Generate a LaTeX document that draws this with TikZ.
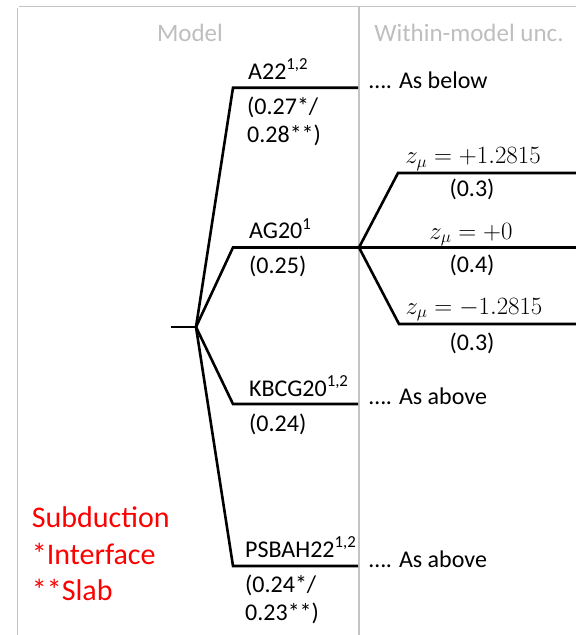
\documentclass[tikz,border=0pt]{standalone}
\usepackage[no-math]{fontspec}
\setmainfont{Carlito}
\definecolor{rulegray}{RGB}{196,196,196}
\definecolor{headgray}{RGB}{190,190,190}
\definecolor{notered}{RGB}{255,0,0}
\begin{document}
\begin{tikzpicture}[x=1pt,y=-1pt,
  frameline/.style={draw=rulegray,line width=1.5pt},
  branch/.style={draw=black,line width=2.6pt},
  head/.style={inner sep=0pt,anchor=base,text=headgray,font=\fontsize{25}{30}\selectfont},
  lbl/.style={inner sep=0pt,anchor=base west,font=\fontsize{24}{29}\selectfont},
  prob/.style={inner sep=0pt,anchor=base,font=\fontsize{24}{29}\selectfont},
  zval/.style={inner sep=0pt,anchor=base,font=\fontsize{23}{27}\selectfont},
  note/.style={inner sep=0pt,anchor=base west,text=notered,font=\fontsize{30}{36}\selectfont}]
\useasboundingbox (0,0) rectangle (576,635);

% table rules
\draw[frameline] (17.7,8) -- (17.7,635);
\draw[frameline] (19,6.5) -- (576,6.5);
\draw[frameline] (359,6.5) -- (359,635);

% column headers
\node[head] (hmodel) at (190,41.7) {Model};
\node[head] (hwithin) at (469,41.7) {Within-model unc.};

% model branch points
\coordinate (stub) at (171,327);
\coordinate (root) at (196,327);
\coordinate (a22c) at (233,87.7);
\coordinate (a22e) at (358,87.7);
\coordinate (ag20c) at (233,247.5);
\coordinate (split) at (359,247.5);
\coordinate (kbcgc) at (233,404);
\coordinate (kbcge) at (358,404);
\coordinate (psbc) at (233,566);
\coordinate (psbe) at (358,566);

% within-model branch points
\coordinate (upc) at (398,173);
\coordinate (upe) at (576,173);
\coordinate (mide) at (576,247.5);
\coordinate (loc) at (399,324);
\coordinate (loe) at (576,324);

% logic tree
\draw[branch] (stub) -- (root);
\draw[branch] (root) -- (a22c) -- (a22e);
\draw[branch] (root) -- (ag20c) -- (split) -- (mide);
\draw[branch] (root) -- (kbcgc) -- (kbcge);
\draw[branch] (root) -- (psbc) -- (psbe);
\draw[branch] (split) -- (upc) -- (upe);
\draw[branch] (split) -- (loc) -- (loe);

% model labels and weights
\node[lbl] (a22) at (248,79) {A22\textsuperscript{1,2}};
\node[lbl] (a22w1) at (247,114) {(0.27*/};
\node[lbl] (a22w2) at (247,142.7) {0.28**)};
\node[lbl] (ag20) at (249,238.5) {AG20\textsuperscript{1}};
\node[lbl] (ag20w) at (249,273.3) {(0.25)};
\node[lbl] (kbcg) at (249,396) {KBCG20\textsuperscript{1,2}};
\node[lbl] (kbcgw) at (249,431) {(0.24)};
\node[lbl] (psb) at (245,557) {PSBAH22\textsuperscript{1,2}};
\node[lbl] (psbw1) at (245,592.7) {(0.24*/};
\node[lbl] (psbw2) at (245,620.7) {0.23**)};

% cross references
\node[lbl] (below) at (369,88.3) {…. As below};
\node[lbl] (above1) at (369,404.3) {…. As above};
\node[lbl] (above2) at (369,567) {…. As above};

% within-model branches
\node[zval] (zup) at (473,163.3) {$z_{\mu} = +1.2815$};
\node[prob] (pup) at (472,196) {(0.3)};
\node[zval] (zmid) at (471,239) {$z_{\mu} = +0$};
\node[prob] (pmid) at (472,272) {(0.4)};
\node[zval] (zlo) at (474,314) {$z_{\mu} = -1.2815$};
\node[prob] (plo) at (472,350) {(0.3)};

% legend
\node[note] (sub) at (31.7,527.3) {Subduction};
\node[note] (intf) at (31.7,564) {*Interface};
\node[note] (slab) at (31.7,600) {**Slab};
\end{tikzpicture}
\end{document}
